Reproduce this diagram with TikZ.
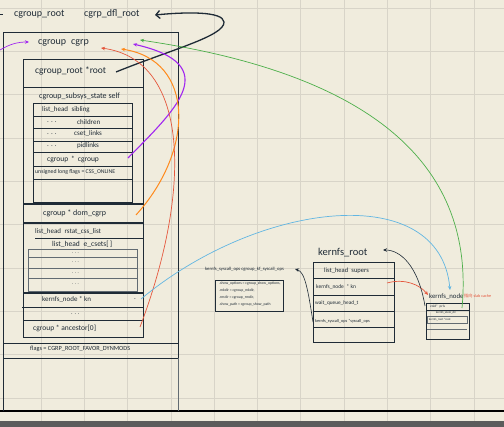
\documentclass[tikz,border=0pt]{standalone}
\usepackage{fontspec}
\setmainfont{Carlito}
\newfontfamily\cjkfont{Noto Sans CJK SC}
\usetikzlibrary{arrows.meta}
\definecolor{paper}{HTML}{F0ECDD}
\definecolor{gridc}{HTML}{D8D4C8}
\definecolor{ink}{HTML}{1F2B36}
\definecolor{cpurple}{HTML}{A126F0}
\definecolor{corange}{HTML}{FF8A1C}
\definecolor{cred}{HTML}{E5573D}
\definecolor{cgreen}{HTML}{4DAF4A}
\definecolor{cblue}{HTML}{62B6E2}
\definecolor{bargray}{HTML}{5C5C5C}
\begin{document}
\begin{tikzpicture}[x=1pt,y=-1pt,
  every node/.style={inner sep=0pt,text=ink},
  tx/.style={anchor=west,font=\fontsize{#1}{#1}\selectfont},
  ln/.style={draw=ink,line width=0.7pt},
  lnthick/.style={draw=ink,line width=1.1pt},
  lngray/.style={draw=ink!70,line width=0.6pt},
  ptr/.style={line width=0.7pt,-{Stealth[length=4pt,width=3.5pt]}},
  blk/.style={draw=ink,line width=1.3pt,-{Straight Barb[length=4pt,width=8pt]}}]
\useasboundingbox (0,0) rectangle (504,427);
% paper and grid
\fill[paper] (0,0) rectangle (504,427);
\foreach \i in {1,...,11} \draw[gridc,line width=0.8pt] ({-2.3+43.3*\i},0) -- ({-2.3+43.3*\i},421);
\foreach \j in {0,...,9} \draw[gridc,line width=0.8pt] (0,{8.3+43.3*\j}) -- (504,{8.3+43.3*\j});
\fill[bargray] (0,421) rectangle (504,427);
\draw[black,line width=1.5pt] (0,411) -- (504,411);

% ---------- cgroup_root ----------
\node[tx=10] (rootlbl) at (14,14) {cgroup\_root};
\node[tx=10] (dfl) at (84,14) {cgrp\_dfl\_root};
\draw[ink,line width=1pt] (0,15) -- (3,15);

\draw[ln] (3,32) rectangle (178,358);
\draw[ln] (3,343) -- (178,343);
\draw[ln] (3,358) -- (3,411);
\draw[lngray] (178,358) -- (178,411);
\node[tx=10] (cgrp) at (38,43) {cgroup\enspace cgrp};

% inner structure
\draw[ln] (23,59) rectangle (143,337);
\node[tx=9.5] (rootptr) at (35,71) {cgroup\_root *root};
\draw[ln] (23,87) -- (143,87);
\node[tx=8] (self) at (39,96) {cgroup\_subsys\_state self};
\draw[ln] (33,103) rectangle (132,202);
\foreach \y in {116,128,141,152,166,179} \draw[ln] (33,\y) -- (132,\y);
\node[tx=7] (sib) at (42,110) {list\_head\enspace sibling};
\node[tx=7] (d1) at (47,122) {. . .};
\node[tx=7] (chl) at (77,122) {children};
\node[tx=7] (d2) at (47,134) {. . .};
\node[tx=7] (cset) at (74,134) {cset\_links};
\node[tx=7] (d3) at (47,146) {. . .};
\node[tx=7] (pid) at (77,146) {pidlinks};
\node[tx=7.5] (cgcg) at (47,159) {cgroup \,*\, cgroup};
\node[tx=5.8] (flg) at (35,172) {unsigned long flags = CSS\_ONLINE};
\draw[lnthick] (23,204) -- (143,204);
\node[tx=8] (domc) at (43,213) {cgroup * dom\_cgrp};
\draw[lnthick] (23,223) -- (143,223);
\node[tx=7] (rstat) at (35,232) {list\_head\enspace rstat\_css\_list};
\draw[ln] (35,238) -- (143,238);
\node[tx=7.5] (ecs) at (52,244) {list\_head\enspace e\_csets[\,]};
\draw[lngray] (28,249) rectangle (137,291);
\foreach \y in {257,268,278} \draw[lngray] (28,\y) -- (137,\y);
\node[tx=5] (e1) at (72,253) {. . .};
\node[tx=5] (e2) at (72,262) {. . .};
\node[tx=5] (e3) at (72,273) {. . .};
\node[tx=5] (e4) at (72,284) {. . .};
\draw[lnthick] (23,293) -- (143,293);
\node[tx=7] (kn) at (42,299) {kernfs\_node * kn};
\node[tx=7] (kndot) at (134,299) {.};
\draw[ln] (22,307) -- (143,307);
\node[tx=6] (d4) at (71,314) {. . .};
\draw[ln] (23,320) -- (143,320);
\node[tx=7.5] (anc) at (33,328) {cgroup * ancestor[0]};
\node[tx=6.3] (flags) at (30,349) {flags = CGRP\_ROOT\_FAVOR\_DYNMODS};

% ---------- kf syscall ops ----------
\node[tx=4.7] (kfops) at (205,269) {kernfs\_syscall\_ops cgroup\_kf\_syscall\_ops};
\draw[ln] (215,280) rectangle (283,311);
\node[tx=3.8] (o1) at (219,284) {.show\_options = cgroup\_show\_options,};
\node[tx=3.8] (o2) at (219,291) {.mkdir = cgroup\_mkdir,};
\node[tx=3.8] (o3) at (219,298) {.rmdir = cgroup\_rmdir,};
\node[tx=3.8] (o4) at (219,305) {.show\_path = cgroup\_show\_path};

% ---------- kernfs_root ----------
\node[tx=10.5] (kroot) at (318,253) {kernfs\_root};
\draw[ln] (313,262) rectangle (394,342);
\foreach \y in {278,295,311,327} \draw[ln] (313,\y) -- (394,\y);
\node[tx=6.5] (sup) at (324,271) {list\_head\enspace supers};
\node[tx=5.5] (rkn) at (316,287) {kernfs\_node\; * kn};
\node[tx=5.3] (wq) at (315,303) {wait\_queue\_head\_t};
\node[tx=4.3] (sops) at (315,321) {kernfs\_syscall\_ops *syscall\_ops};

% ---------- kernfs_node ----------
\node[tx=6.8] (knode) at (429,297) {kernfs\_node};
\node[tx=4.2,text=cred] (note) at (464,296) {{\cjkfont 指向} slab cache};
\draw[ln] (426,303) rectangle (469,339);
\draw[ln] (426,310) -- (469,310);
\node[tx=3.5] (priv) at (430,306.5) {void*\enspace priv};
\node[tx=3] (edir) at (436,313) {kernfs\_elem\_dir};
\draw[lngray] (427,316) rectangle (467,323);
\node[tx=3] (eroot) at (429,319.5) {kernfs\_root *root};
\draw[lngray] (427,329) -- (467,329);

% ---------- connector end points ----------
\coordinate (rootptrEnd) at (116,72);
\coordinate (dflTip) at (155,15);
\coordinate (pStart) at (0,50);
\coordinate (pTip) at (29,42);
\coordinate (cgcgEnd) at (128,158);
\coordinate (domEnd) at (136,215);
\coordinate (ancEnd) at (140,327);
\coordinate (knEnd) at (141,299);
\coordinate (redTip) at (101,48);
\coordinate (orTip) at (121,49);
\coordinate (puTip) at (133,44);
\coordinate (grTip) at (140,40);
\coordinate (privEnd) at (462,308);
\coordinate (knodeTop) at (450,290);
\coordinate (rknEnd) at (387,283);
\coordinate (knodeLeft) at (428,295);
\coordinate (knodeBox) at (425,306);
\coordinate (krootTip) at (383,250);
\coordinate (sopsLeft) at (313,322);
\coordinate (kfopsTip) at (295,269);

% ---------- connectors ----------
\draw[blk] (rootptrEnd) .. controls (170,50) and (225,36) .. (224,22) .. controls (223,11) and (185,12) .. (dflTip);
\draw[ptr,cpurple] (pStart) .. controls (10,44) and (18,42) .. (pTip);
\draw[ptr,cpurple,line width=1.1pt] (cgcgEnd) .. controls (175,110) and (225,65) .. (puTip);
\draw[ptr,corange,line width=1pt] (domEnd) .. controls (195,150) and (195,60) .. (orTip);
\draw[ptr,cred] (ancEnd) .. controls (192,190) and (190,60) .. (redTip);
\draw[ptr,cgreen] (privEnd) .. controls (475,170) and (380,75) .. (grTip);
\draw[ptr,cblue] (knEnd) .. controls (260,200) and (440,180) .. (knodeTop);
\draw[ptr,cred] (rknEnd) .. controls (405,278) and (420,285) .. (knodeLeft);
\draw[ptr,ink,line width=0.6pt] (knodeBox) .. controls (418,265) and (400,250) .. (krootTip);
\draw[ptr,ink,line width=0.6pt] (sopsLeft) .. controls (308,290) and (305,272) .. (kfopsTip);
\end{tikzpicture}
\end{document}
